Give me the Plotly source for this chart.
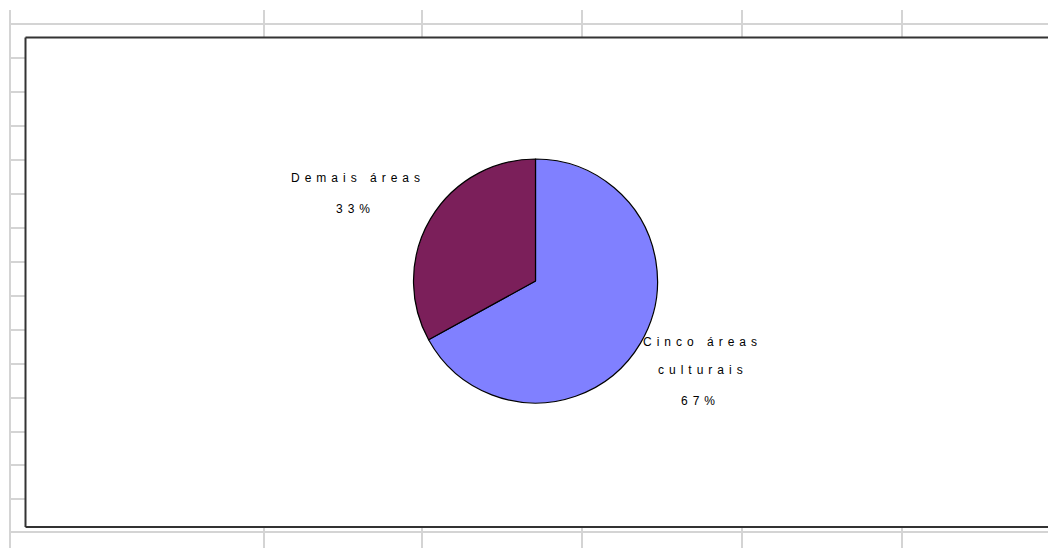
import plotly.graph_objects as go

# ---- data ----
categories = ["Cinco áreas<br>culturais", "Demais áreas"]
values = [67, 33]
colors = ["#8080FF", "#7B1F5A"]

W, H = 1048, 548

def px(x):
    return x / W

def py(y):
    return 1 - y / H

fig = go.Figure()

fig.add_trace(go.Pie(
    labels=[c.replace("<br>", " ") for c in categories],
    values=values,
    sort=False,
    direction="clockwise",
    rotation=0,
    marker=dict(colors=colors, line=dict(color="#000000", width=1.2)),
    textinfo="none",
    hoverinfo="skip",
    showlegend=False,
    domain=dict(x=[px(413), px(658)], y=[py(403), py(159)]),
))

shapes = []
grid = "#d4d4d4"
# spreadsheet gridlines (background)
shapes.append(dict(type="line", x0=px(10), x1=px(10), y0=py(10), y1=0,
                   line=dict(color=grid, width=2)))
for yy in (24, 532):
    shapes.append(dict(type="line", x0=px(10), x1=1, y0=py(yy), y1=py(yy),
                       line=dict(color=grid, width=2)))
for k in range(1, 15):
    yy = 24 + 34 * k - (1 if k > 12 else 0)
    shapes.append(dict(type="line", x0=px(10), x1=px(25), y0=py(yy), y1=py(yy),
                       line=dict(color=grid, width=2)))
for xx in (264, 422, 582, 742, 902):
    shapes.append(dict(type="line", x0=px(xx), x1=px(xx), y0=py(10), y1=py(38),
                       line=dict(color=grid, width=2)))
    shapes.append(dict(type="line", x0=px(xx), x1=px(xx), y0=py(527), y1=0,
                       line=dict(color=grid, width=2)))
# chart area (white fill + border on top, left, bottom; right edge is off-screen)
shapes.append(dict(type="rect", x0=px(25.5), x1=1, y0=py(527), y1=py(37.5),
                   line=dict(width=0), fillcolor="white", layer="below"))
border = dict(color="#333333", width=2)
shapes.append(dict(type="line", x0=px(25.5), x1=1, y0=py(37.5), y1=py(37.5), line=border))
shapes.append(dict(type="line", x0=px(25.5), x1=1, y0=py(527), y1=py(527), line=border))
shapes.append(dict(type="line", x0=px(25.5), x1=px(25.5), y0=py(527), y1=py(37.5), line=border))

# ---- labels built from the data ----
total = sum(values)
label_pos = {
    0: [(702, 342), (703, 370), (700, 401)],
    1: [(358, 178), (355, 209)],
}
annotations = []
for i, (cat, v) in enumerate(zip(categories, values)):
    lines = cat.split("<br>") + [f"{round(v / total * 100)}%"]
    for line, (xx, yy) in zip(lines, label_pos[i]):
        annotations.append(dict(
            x=px(xx), y=py(yy), xref="paper", yref="paper",
            text=f"<span style='letter-spacing:5px'>{line}</span>",
            showarrow=False, xanchor="center", yanchor="middle",
            font=dict(family="Liberation Sans, Arial", size=12, color="#000000"),
        ))

fig.update_layout(
    width=W, height=H,
    margin=dict(l=0, r=0, t=0, b=0),
    paper_bgcolor="white",
    plot_bgcolor="white",
    shapes=shapes,
    annotations=annotations,
)

fig.write_html(
    "out.html",
    config={"displayModeBar": False, "staticPlot": True},
    post_script="document.body.style.margin='0';document.body.style.overflow='hidden';",
)
